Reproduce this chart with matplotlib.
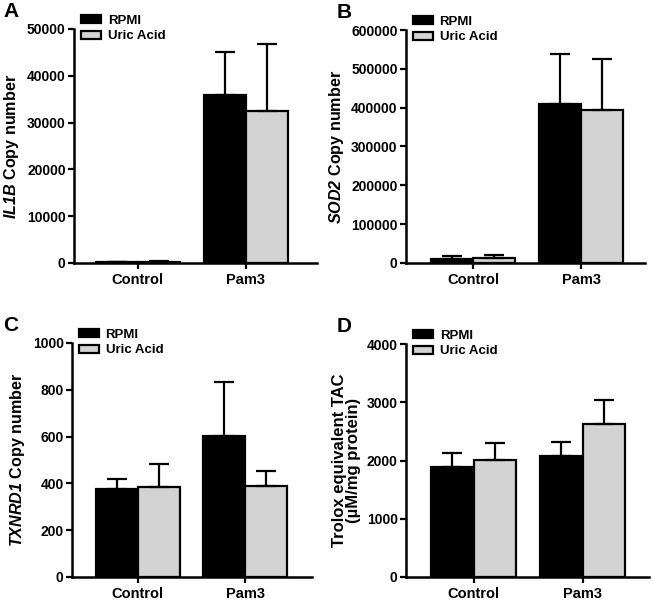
import matplotlib
matplotlib.use("Agg")
import matplotlib.pyplot as plt
import numpy as np

plt.rcParams['font.family'] = ['Liberation Sans', 'DejaVu Sans']
plt.rcParams['font.weight'] = 'bold'
plt.rcParams['mathtext.fontset'] = 'custom'
plt.rcParams['mathtext.it'] = 'Liberation Sans:italic:bold'
plt.rcParams['mathtext.rm'] = 'Liberation Sans:italic:bold'
plt.rcParams['mathtext.bf'] = 'Liberation Sans:italic:bold'

categories = ['Control', 'Pam3']
series_names = ['RPMI', 'Uric Acid']

# Panel A: IL1B
il1b_rpmi = [200, 35950]
il1b_rpmi_err = [120, 9100]
il1b_ua = [300, 32450]
il1b_ua_err = [120, 14450]

# Panel B: SOD2
sod2_rpmi = [11000, 409000]
sod2_rpmi_err = [7000, 129000]
sod2_ua = [12500, 394000]
sod2_ua_err = [9000, 131000]

# Panel C: TXNRD1
txnrd1_rpmi = [374, 603]
txnrd1_rpmi_err = [43, 230]
txnrd1_ua = [384, 389]
txnrd1_ua_err = [100, 66]

# Panel D: Trolox equivalent TAC
tac_rpmi = [1890, 2075]
tac_rpmi_err = [245, 250]
tac_ua = [2008, 2622]
tac_ua_err = [300, 415]

panels = [
    dict(letter='A', rpmi=il1b_rpmi, rpmi_err=il1b_rpmi_err, ua=il1b_ua, ua_err=il1b_ua_err,
         ymax=50000, ystep=10000, ylabel=r'$\mathit{IL1B}$ Copy number', yfs=11.6,
         rect=[74/653, 1-263/602, 243/653, 234/602], xlim=(-0.59, 1.66)),
    dict(letter='B', rpmi=sod2_rpmi, rpmi_err=sod2_rpmi_err, ua=sod2_ua, ua_err=sod2_ua_err,
         ymax=600000, ystep=100000, ylabel=r'$\mathit{SOD2}$ Copy number', yfs=11.6,
         rect=[406/653, 1-263/602, 239/653, 233/602], xlim=(-0.62, 1.59)),
    dict(letter='C', rpmi=txnrd1_rpmi, rpmi_err=txnrd1_rpmi_err, ua=txnrd1_ua, ua_err=txnrd1_ua_err,
         ymax=1000, ystep=200, ylabel=r'$\mathit{TXNRD1}$ Copy number', yfs=11.6,
         rect=[72/653, 1-577/602, 240/653, 234/602], xlim=(-0.61, 1.62)),
    dict(letter='D', rpmi=tac_rpmi, rpmi_err=tac_rpmi_err, ua=tac_ua, ua_err=tac_ua_err,
         ymax=4000, ystep=1000, ylabel='Trolox equivalent TAC\n(\u00b5M/mg protein)', yfs=12,
         rect=[406/653, 1-577/602, 243/653, 233/602], xlim=(-0.62, 1.61)),
]

fig = plt.figure(figsize=(6.53, 6.02), dpi=100)

width = 0.39
x = np.arange(len(categories))
lw = 1.6
err_kw = dict(ecolor='black', elinewidth=1.6, capsize=7.5, capthick=1.6)

for p in panels:
    ax = fig.add_axes(p['rect'])
    zeros = np.zeros(len(categories))
    ax.bar(x - width/2, p['rpmi'], width, color='black', edgecolor='black', linewidth=lw,
           yerr=[zeros, p['rpmi_err']], error_kw=err_kw, label=series_names[0], zorder=2)
    ax.bar(x + width/2, p['ua'], width, color='#d3d3d3', edgecolor='black', linewidth=lw,
           yerr=[zeros, p['ua_err']], error_kw=err_kw, label=series_names[1], zorder=2)
    ax.set_ylim(0, p['ymax'])
    ax.set_xlim(*p['xlim'])
    ax.set_yticks(np.arange(0, p['ymax'] + 1, p['ystep']))
    ax.set_xticks(x)
    ax.set_xticklabels(categories)
    for s in ['top', 'right']:
        ax.spines[s].set_visible(False)
    for s in ['left', 'bottom']:
        ax.spines[s].set_linewidth(1.8)
    ax.tick_params(axis='both', direction='out', length=4, width=1.6, labelsize=10, pad=2)
    ax.tick_params(axis='x', labelsize=10.5, pad=3)
    for t in ax.get_xticklabels() + ax.get_yticklabels():
        t.set_fontweight('bold')
    ax.set_ylabel(p['ylabel'], fontsize=p['yfs'], fontweight='bold', labelpad=4,
                  linespacing=0.95)
    leg = ax.legend(loc='upper left', bbox_to_anchor=(0.03, 1.06), frameon=False,
                    fontsize=9.5, handlelength=1.5, handleheight=0.55, handletextpad=0.5,
                    labelspacing=0.25, borderaxespad=0, borderpad=0)
    for t in leg.get_texts():
        t.set_fontweight('bold')
    bbox = ax.get_position()
    fig.text(3/653 if p['letter'] in 'AC' else 337/653,
             bbox.y1 + 27/602, p['letter'], fontsize=15, fontweight='bold',
             ha='left', va='top')

fig.savefig('out.png', dpi=100)
